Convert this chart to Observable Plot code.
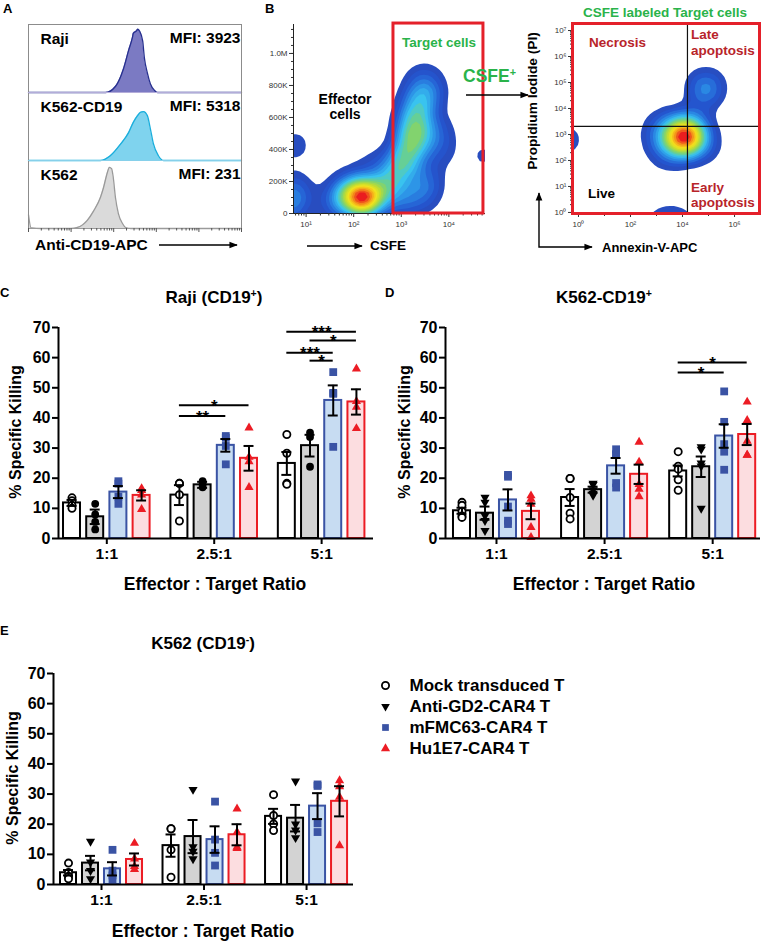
<!DOCTYPE html>
<html><head><meta charset="utf-8">
<script src="https://cdn.jsdelivr.net/npm/d3@7"></script>
<script src="https://cdn.jsdelivr.net/npm/@observablehq/plot@0.6"></script>
<style>
body{margin:0;background:#fff;}
#root{position:relative;width:768px;height:947px;overflow:hidden;font-family:"Liberation Sans",Arial,sans-serif;font-weight:bold;color:#000;background:#fff;}
.abs{position:absolute;}
.t{position:absolute;white-space:nowrap;line-height:1;}
sup{font-size:0.62em;line-height:0;vertical-align:0.55em;}
</style></head><body><div id="root"></div>
<script>
// ---------------- DATA ----------------
// Panel A: CD19 expression histograms (x = log10 APC intensity, y = % of max)
const cellLines = ["Raji", "K562-CD19", "K562"];
const mfiValues = [3923, 5318, 231];
const rajiHist = [[0,0],[1.81,0],[2.04,8.8],[2.23,35],[2.35,62],[2.44,81],[2.46,87],[2.54,91],[2.56,93],[2.61,90],[2.68,76],[2.72,51],[2.79,29],[2.86,13],[2.96,3],[3.03,0],[5,0]];
const k562cd19Hist = [[0,0],[1.69,0],[1.92,7],[2.16,24],[2.35,41],[2.46,56],[2.56,66],[2.63,71],[2.70,72],[2.79,66],[2.86,47],[2.93,25],[3.05,7],[3.17,0],[5,0]];
const k562Hist = [[0,20],[0.06,1],[0.3,0],[1.0,0],[1.15,1.5],[1.38,12],[1.53,26],[1.69,46],[1.76,60],[1.85,82],[1.90,90],[1.95,88],[1.99,75],[2.04,46],[2.11,22],[2.21,7],[2.28,1.5],[2.4,0],[5,0]];

// Panel B left: CSFE (log10) vs FSC-A (K) event clusters [x, y, weight]
const csfeEvents = [[2.185,87,8],[2.038,112,4],[2.395,112,4],[1.828,131,2.5],[2.668,156,3],[1.65,81,1.5],[2.878,237,3],[3.088,331,5],[3.235,456,6],[3.277,581,5],[3.361,706,3.5],[3.48,831,2],[3.62,737,1.5],[3.72,519,2],[3.78,394,1.5],[3.52,206,2],[3.4,112,2],[2.983,81,2],[2.563,300,1.2],[2.143,237,1.2],[1.6,50,0.8],[0.756,144,2.2],[0.70,50,2.5],[0.756,425,1.2],[4.72,362,0.9]];
const targetGate = [{x1: 2.836, x2: 4.727, y1: 0, y2: 1187}];
// Panel B right: Annexin-V (log10) vs PI (log10) event clusters [x, y, weight]
const annexinEvents = [[4.12,2.92,7],[3.7,2.9,4],[4.5,2.9,3],[4.1,3.2,3],[4.1,2.5,3],[3.2,2.8,2],[3.4,2.2,1.5],[3.5,3.4,1.5],[4.9,2.6,1.5],[4.5,3.45,1.5],[3.0,3.2,1],[4.9,4.8,4.2],[4.7,4.15,0.45],[3.2,-0.4,1.6],[3.9,-0.4,1.6],[-0.45,2.8,1.6]];
const quadrantGate = {annexin: 4.19, pi: 3.31};

// Panels C-E
const ratios = ["1:1", "2.5:1", "5:1"];
const groups = ["Mock transduced T", "Anti-GD2-CAR4 T", "mFMC63-CAR4 T", "Hu1E7-CAR4 T"];

const rajiMeans = [[11.8,7.2,15.4,14.3],[14.4,17.8,30.9,26.6],[24.9,30.8,45.8,45.3]];
const rajiSems  = [[1.0,2.4,2.0,1.7],[3.3,1.0,2.1,4.1],[3.8,3.6,5.0,4.2]];
const rajiPoints = [
  [[13.5,12.5,11,10],[11.5,8,5.5,3],[19,18.2,13.9,11.5],[16.6,16,14.5,9.7]],
  [[18.3,18.3,14.5,5.8],[19,18,17],[34,33.4,30.7,24.6],[36.7,27,25.5,17]],
  [[34.5,28.3,18.3,18],[35.1,33.7,23.8],[55.2,48.3,48,30.4],[56.3,45.5,43.6,36.5]]];
const rajiSig = [[1,0,3,44.2,"*"],[1,0,2,40.6,"**"],[2,0,3,68.6,"***"],[2,1,3,65.7,"*"],[2,0,2,61.6,"***"],[2,1,2,59,"*"]];

const cd19Means = [[9.2,8.4,12.8,9.0],[13.6,16.2,24.1,21.3],[22.4,23.8,34.0,34.5]];
const cd19Sems  = [[1.0,2.2,3.5,2.6],[2.8,1.0,2.6,3.2],[1.8,3.4,3.9,3.5]];
const cd19Points = [
  [[12,11,9,7.5,7],[13.6,12,7.6,5.9,2.6],[21.1,20.5,10.6,5.9,4.8],[14.2,13.1,11.4,3.7,0.4]],
  [[19.9,19.9,13.6,8.4,6.5],[18.3,17.9,16.1,15,14.3],[29.6,28,27.7,18.4,16.9],[32,25.4,18,16.4,13.9]],
  [[28.8,24,23,19.5,16],[30.4,29.6,25,24,10],[48.8,38.7,31.3,28.8,22.8],[45.3,39.2,32.3,27.7,27.7]]];
const cd19Sig = [[2,0,3,58.4,"*"],[2,0,2,55.1,"*"]];

const k562Means = [[3.9,7.1,5.2,8.3],[12.9,15.9,14.9,16.5],[22.6,22.0,26.0,27.6]];
const k562Sems  = [[0.9,2.4,2.2,2.0],[3.7,5.5,4.4,3.5],[2.5,4.4,4.3,5.0]];
const k562Points = [
  [[7.1,4.0,2.7,1.9],[14.3,7.4,4.6,1.9],[11.5,4.6,3.0,1.5],[13.7,8.5,6.0,5.0]],
  [[18.5,18.5,11.5,2.4],[31.5,12.5,11,8.5],[27.5,14.9,10.5,6.3],[25.1,17.4,12.4,12]],
  [[29.8,22.9,20.1,17.9],[34.3,20,18,15.5],[33.2,32.7,20.3,17.4],[34.5,32.5,29,12.9]]];
const k562Sig = [];

// ---------------- STYLE ----------------
const FONT = '"Liberation Sans", Arial, sans-serif';
const barFill = ["#ffffff", "#d3d3d3", "#c7dcf2", "#fcdde0"];
const barStroke = ["#000000", "#000000", "#3a53a4", "#ec1c24"];
const ptFill = ["#ffffff", "#000000", "#3a53a4", "#ec1c24"];
const ptStroke = ["#000000", "none", "none", "none"];
const histFill = ["#7b7ac3", "#7fd3ee", "#dadada"];
const histStroke = ["#27308f", "#1aaedc", "#9a9a9a"];
const histBase = ["#b3acd9", "#86d0ea", "#9a9a9a"];
const jet = ["#2b47b4","#2456d0","#2b8fe6","#3ac6ef","#72d17e","#bcdc34","#f4e41c","#f59a1a","#ea1d1f"];
const sqrt3 = Math.sqrt(3);
const triangleDown = {draw(ctx, size) {const y = -Math.sqrt(size / (sqrt3 * 3)); ctx.moveTo(0, -2 * y); ctx.lineTo(-sqrt3 * y, y); ctx.lineTo(sqrt3 * y, y); ctx.closePath();}};

const root = document.getElementById("root");
function place(node, left, top) {const d = document.createElement("div"); d.className = "abs"; d.style.left = left + "px"; d.style.top = top + "px"; d.appendChild(node); root.appendChild(d); return d;}
function label(html, x, y, o = {}) {
  const size = o.size || 15, d = document.createElement("div");
  d.className = "t"; d.innerHTML = html; d.style.fontSize = size + "px"; d.style.color = o.color || "#000";
  d.style.fontWeight = o.weight || "bold";
  if (o.rotate) {d.style.left = x + "px"; d.style.top = y + "px"; d.style.transform = "translate(-50%,-50%) rotate(-90deg)";}
  else {
    d.style.left = x + "px"; d.style.top = (y - 0.49 * size) + "px";
    if (o.anchor === "middle") d.style.transform = "translateX(-50%)";
    if (o.anchor === "end") d.style.transform = "translateX(-100%)";
  }
  root.appendChild(d);
}
const sup = {"-1":"⁻¹",0:"⁰",1:"¹",2:"²",3:"³",4:"⁴",5:"⁵",6:"⁶",7:"⁷"};
function logMinor(lo, hi) {const t = []; for (let n = Math.floor(lo); n <= hi; n++) for (let k = 2; k < 10; k++) {const v = n + Math.log10(k); if (v >= lo && v <= hi) t.push(v);} return t;}

// ---------------- PANEL A ----------------
const hists = [rajiHist, k562cd19Hist, k562Hist];
const histRows = cellLines.flatMap((c, i) => hists[i].map(([x, y]) => ({cell: c, x, y})));
const cellRows = cellLines.map((c, i) => ({cell: c, mfi: mfiValues[i]}));
const plotA = Plot.plot({
  width: 250, height: 230, marginLeft: 28, marginRight: 9, marginTop: 9, marginBottom: 17,
  style: {fontFamily: FONT, fontWeight: "bold", background: "none", overflow: "visible"},
  x: {domain: [0, 5]}, y: {domain: [0, 100], axis: null},
  fy: {domain: cellLines, padding: 0, axis: null},
  marks: [
    ...cellLines.flatMap((c, i) => [
      Plot.areaY(histRows.filter(d => d.cell === c), {x: "x", y: "y", fy: "cell", fill: histFill[i], curve: "monotone-x"}),
      Plot.lineY(histRows.filter(d => d.cell === c), {x: "x", y: "y", fy: "cell", stroke: histStroke[i], strokeWidth: 1.3, curve: "monotone-x"})
    ]),
    Plot.frame({stroke: "#8c8c8c"}),
    ...cellLines.map((c, i) => Plot.ruleY([0], {fy: [c], stroke: histBase[i], strokeWidth: 1.2})),
    Plot.text(cellRows, {fy: "cell", text: "cell", frameAnchor: "top-left", dx: 12, dy: 15, fontSize: 15.5, lineAnchor: "middle", textAnchor: "start"}),
    Plot.text(cellRows, {fy: "cell", text: d => "MFI: " + d.mfi, frameAnchor: "top-right", dx: -1, dy: 14, fontSize: 15.5, lineAnchor: "middle", textAnchor: "end"}),
    Plot.axisX({ticks: [0,1,2,3,4,5], tickSize: 4, tickFormat: () => "", stroke: "#555", label: null}),
    Plot.axisX({ticks: logMinor(0, 5), tickSize: 2.5, tickFormat: () => "", stroke: "#555", label: null})
  ]
});
place(plotA, 0, 15);

// ---------------- PANEL B (left) ----------------
const plotB1 = Plot.plot({
  width: 240, height: 230, marginLeft: 43, marginRight: 5, marginTop: 9, marginBottom: 32,
  style: {fontFamily: FONT, fontWeight: "normal", background: "none", overflow: "visible", color: "#333"},
  x: {domain: [0.735, 4.77]}, y: {domain: [0, 1181]},
  color: {type: "linear", range: jet},
  marks: [
    Plot.density(csfeEvents, {x: d => d[0], y: d => d[1], weight: d => d[2], bandwidth: 10, thresholds: 20, fill: "density", clip: true}),
    Plot.ruleX([0.735], {stroke: "#222"}), Plot.ruleY([0], {stroke: "#222"}),
    Plot.axisY({ticks: [0,200,400,600,800,1000], tickFormat: d => d === 0 ? "0" : d >= 1000 ? "1.0M" : d + "K", tickSize: 4, tickPadding: 2, fontSize: 8, label: null}),
    Plot.axisY({ticks: d3.range(50, 1181, 50), tickSize: 2, tickFormat: () => "", label: null}),
    Plot.axisX({ticks: [1,2,3,4], tickFormat: d => "10" + sup[d], tickSize: 4, tickPadding: 4, fontSize: 8, label: null}),
    Plot.axisX({ticks: logMinor(0.735, 4.77), tickSize: 2.5, tickFormat: () => "", label: null}),
    Plot.rect(targetGate, {x1: "x1", x2: "x2", y1: "y1", y2: "y2", fill: "none", stroke: "#e4202a", strokeWidth: 3})
  ]
});
place(plotB1, 250, 15);

// ---------------- PANEL B (right) ----------------
const plotB2 = Plot.plot({
  width: 244, height: 230, marginLeft: 52, marginRight: 5, marginTop: 8, marginBottom: 32,
  style: {fontFamily: FONT, fontWeight: "normal", background: "none", overflow: "visible", color: "#333"},
  x: {domain: [-0.23, 6.96]}, y: {domain: [-0.04, 7.27]},
  color: {type: "linear", range: jet},
  marks: [
    Plot.density(annexinEvents, {x: d => d[0], y: d => d[1], weight: d => d[2], bandwidth: 10, thresholds: 18, fill: "density", clip: true}),
    Plot.ruleX([quadrantGate.annexin], {stroke: "#111", strokeWidth: 1.2}),
    Plot.ruleY([quadrantGate.pi], {stroke: "#111", strokeWidth: 1.2}),
    Plot.axisY({ticks: [0,1,2,3,4,5,6,7], tickFormat: d => "10" + sup[d], tickSize: 4, tickPadding: 2, fontSize: 8, label: null}),
    Plot.axisY({ticks: logMinor(0, 7), tickSize: 2, tickFormat: () => "", label: null}),
    Plot.axisX({ticks: [0,2,4,6], tickFormat: d => "10" + sup[d], tickSize: 4, tickPadding: 4, fontSize: 8, label: null}),
    Plot.axisX({ticks: [1,3,5], tickSize: 3, tickFormat: () => "", label: null}),
    Plot.frame({stroke: "#e4202a", strokeWidth: 3})
  ]
});
place(plotB2, 520, 15);

// ---------------- PANELS C, D, E ----------------
function barPanel(means, sems, points, sig, L) {
  const bars = [], dots = [];
  ratios.forEach((r, g) => groups.forEach((s, k) => {
    const pos = g * L.step + k;
    bars.push({ratio: r, k, pos, mean: means[g][k], sem: sems[g][k]});
    points[g][k].forEach(v => dots.push({k, pos, value: v}));
  }));
  const sigRows = sig.map(([g, a, b, level, text]) => ({x1: g * L.step + a, x2: g * L.step + b, level, text}));
  const centers = ratios.map((r, g) => g * L.step + 1.5);
  const symbols = ["circle", L.gd2Symbol, "square", "triangle"];
  const radii = [3.6, L.gd2Symbol === "circle" ? 3.9 : 3.4, 4.4, 3.4];
  return Plot.plot({
    width: L.width, height: L.height, marginLeft: L.ml, marginRight: L.mr, marginTop: L.mt, marginBottom: L.mb,
    style: {fontFamily: FONT, fontWeight: "bold", background: "none", overflow: "visible", color: "#000"},
    x: {domain: L.xDomain}, y: {domain: [0, 70]},
    marks: [
      ...groups.map((s, k) => Plot.rectY(bars.filter(d => d.k === k), {x1: d => d.pos - L.hw, x2: d => d.pos + L.hw, y1: 0, y2: "mean", fill: barFill[k], stroke: barStroke[k], strokeWidth: 2})),
      ...groups.map((s, k) => Plot.dot(dots.filter(d => d.k === k), {x: "pos", y: "value", symbol: symbols[k], r: radii[k], fill: ptFill[k], stroke: ptStroke[k], strokeWidth: 1.8})),
      Plot.ruleX(bars, {x: "pos", y1: d => d.mean - d.sem, y2: d => d.mean + d.sem, strokeWidth: 2}),
      Plot.ruleY(bars, {y: d => d.mean + d.sem, x1: d => d.pos - L.cap, x2: d => d.pos + L.cap, strokeWidth: 2}),
      Plot.ruleY(bars, {y: d => d.mean - d.sem, x1: d => d.pos - L.cap, x2: d => d.pos + L.cap, strokeWidth: 2}),
      Plot.ruleY(sigRows, {y: "level", x1: "x1", x2: "x2", strokeWidth: 2}),
      Plot.text(sigRows, {x: d => (d.x1 + d.x2) / 2, y: "level", text: "text", fontSize: 17, lineAnchor: "middle", dy: 1}),
      Plot.ruleY([0], {strokeWidth: 2}),
      Plot.ruleX([L.xDomain[0]], {y1: 0, y2: 70, strokeWidth: 2}),
      Plot.axisY({ticks: d3.range(0, 71, 10), tickSize: 6, tickPadding: 2, fontSize: 16, strokeWidth: 2, label: null}),
      Plot.axisX({ticks: centers, tickFormat: d => ratios[Math.round((d - 1.5) / L.step)], tickSize: 6, tickPadding: 3, fontSize: 15.5, strokeWidth: 2, label: null})
    ]
  });
}
const layoutC = {width: 385, height: 250, ml: 58, mr: 12, mt: 12, mb: 27, xDomain: [-0.582, 12.996], step: 4.63, hw: 0.366, cap: 0.215, gd2Symbol: "circle"};
const layoutD = {width: 383, height: 250, ml: 60, mr: 8, mt: 12, mb: 27, xDomain: [-0.717, 12.979], step: 4.70, hw: 0.37, cap: 0.217, gd2Symbol: triangleDown};
const layoutE = {width: 365, height: 255, ml: 53, mr: 12, mt: 13, mb: 31, xDomain: [-0.682, 12.954], step: 4.66, hw: 0.364, cap: 0.227, gd2Symbol: triangleDown};
place(barPanel(rajiMeans, rajiSems, rajiPoints, rajiSig, layoutC), 0, 315);
place(barPanel(cd19Means, cd19Sems, cd19Points, cd19Sig, layoutD), 385, 315);
place(barPanel(k562Means, k562Sems, k562Points, k562Sig, layoutE), 0, 660);

// Legend
const legendSymbols = ["circle", triangleDown, "square", "triangle"];
const legendR = [3.6, 3.2, 3.8, 3.4];
const legend = Plot.plot({
  width: 300, height: 110, marginLeft: 10, marginRight: 0, marginTop: 0, marginBottom: 0,
  style: {fontFamily: FONT, fontWeight: "bold", background: "none", overflow: "visible", color: "#000"},
  y: {type: "point", domain: groups, range: [14, 99.5], axis: null},
  marks: [
    ...groups.map((g, k) => Plot.dot([g], {y: d => d, frameAnchor: "left", symbol: legendSymbols[k], r: legendR[k], fill: ptFill[k], stroke: ptStroke[k], strokeWidth: 1.8})),
    Plot.text(groups, {y: d => d, text: d => d, frameAnchor: "left", dx: 24, textAnchor: "start", fontSize: 17, lineAnchor: "middle"})
  ]
});
place(legend, 375, 660);

// ---------------- TEXT LABELS ----------------
label("A", 3, 8, {size: 13}); label("B", 265, 8, {size: 13});
label("C", 0, 292, {size: 13}); label("D", 385, 292, {size: 13}); label("E", 0, 630, {size: 13});
label("Anti-CD19-APC", 35, 245, {size: 15.5});
label("Effector", 345, 99, {size: 14, anchor: "middle"}); label("cells", 345, 114, {size: 14, anchor: "middle"});
label("Target cells", 402, 43, {size: 13.5, color: "#2ab34a"});
label("CSFE<sup>+</sup>", 463, 77, {size: 17.5, color: "#2ab34a"});
label("CSFE", 370, 246, {size: 13.5});
label("CSFE labeled Target cells", 665, 13, {size: 13.5, color: "#2ab34a", anchor: "middle"});
label("Propidium Iodide (PI)", 533, 101, {size: 13.7, rotate: true});
label("Annexin-V-APC", 602, 247, {size: 13});
label("Necrosis", 589, 43, {size: 13.5, color: "#b8242a"});
label("Late", 691, 35, {size: 13.5, color: "#b8242a"}); label("apoptosis", 691, 51, {size: 13.5, color: "#b8242a"});
label("Live", 588, 194, {size: 13.5});
label("Early", 691, 188, {size: 13.5, color: "#b8242a"}); label("apoptosis", 691, 203, {size: 13.5, color: "#b8242a"});
label("Raji (CD19<sup>+</sup>)", 214, 297, {size: 17, anchor: "middle"});
label("K562-CD19<sup>+</sup>", 604, 297, {size: 17, anchor: "middle"});
label("K562 (CD19<sup>-</sup>)", 203, 643, {size: 17, anchor: "middle"});
label("% Specific Killing", 16, 432, {size: 16, rotate: true});
label("% Specific Killing", 405, 432, {size: 16, rotate: true});
label("% Specific Killing", 13, 778, {size: 16, rotate: true});
label("Effector : Target Ratio", 215, 585, {size: 17.5, anchor: "middle"});
label("Effector : Target Ratio", 604, 585, {size: 17.5, anchor: "middle"});
label("Effector : Target Ratio", 203, 932, {size: 17.5, anchor: "middle"});

// Arrows (annotation)
const ns = "http://www.w3.org/2000/svg";
const ov = document.createElementNS(ns, "svg");
ov.setAttribute("width", 768); ov.setAttribute("height", 947);
ov.style.position = "absolute"; ov.style.left = "0"; ov.style.top = "0"; ov.style.pointerEvents = "none";
ov.innerHTML = `<defs><marker id="ah" viewBox="0 0 10 10" refX="9" refY="5" markerWidth="6" markerHeight="6" orient="auto-start-reverse"><path d="M0,1L10,5L0,9z" fill="#000"/></marker></defs>
<g stroke="#000" stroke-width="1.4" fill="none">
<line x1="159" y1="245" x2="237" y2="245" marker-end="url(#ah)"/>
<line x1="307" y1="246" x2="362" y2="246" marker-end="url(#ah)"/>
<line x1="466" y1="95" x2="528" y2="95" marker-end="url(#ah)"/>
<polyline points="539,193 539,247 592,247" marker-start="url(#ah)" marker-end="url(#ah)"/>
</g>`;
root.appendChild(ov);
</script></body></html>
